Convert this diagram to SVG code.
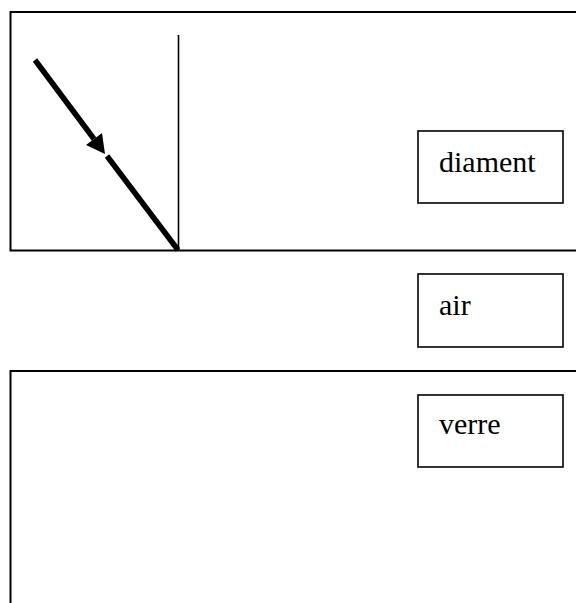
<svg xmlns="http://www.w3.org/2000/svg" width="576" height="603" viewBox="0 0 576 603">
<style>
.frame{fill:none;stroke:#000;stroke-width:2}
.box{fill:#fff;stroke:#000;stroke-width:1.6}
.ray{stroke:#000;stroke-width:5.5;fill:none}
.lbl{font-family:'Liberation Serif','DejaVu Serif','Times New Roman',serif;font-size:30px;fill:#000}
</style>
<rect width="576" height="603" fill="#fff"/>
<g id="diamant-medium">
<rect class="frame" x="10.5" y="12" width="580" height="238.5"/>
</g>
<g id="verre-medium">
<rect class="frame" x="10.5" y="371" width="580" height="260"/>
</g>
<g id="connectors">
<line x1="178.5" y1="35" x2="178.5" y2="250" stroke="#000" stroke-width="1.6"/>
<line class="ray" x1="35" y1="60" x2="94" y2="139"/>
<line class="ray" x1="107" y1="156" x2="178" y2="250"/>
<polygon points="105,154 86,145 102,133" fill="#000"/>
</g>
<g id="label-diament">
<rect class="box" x="418" y="131" width="145" height="72"/>
<text class="lbl" x="439" y="172">diament</text>
</g>
<g id="label-air">
<rect class="box" x="418" y="274" width="145" height="73"/>
<text class="lbl" x="439" y="315">air</text>
</g>
<g id="label-verre">
<rect class="box" x="418" y="395" width="145" height="72"/>
<text class="lbl" x="439" y="434">verre</text>
</g>
</svg>
